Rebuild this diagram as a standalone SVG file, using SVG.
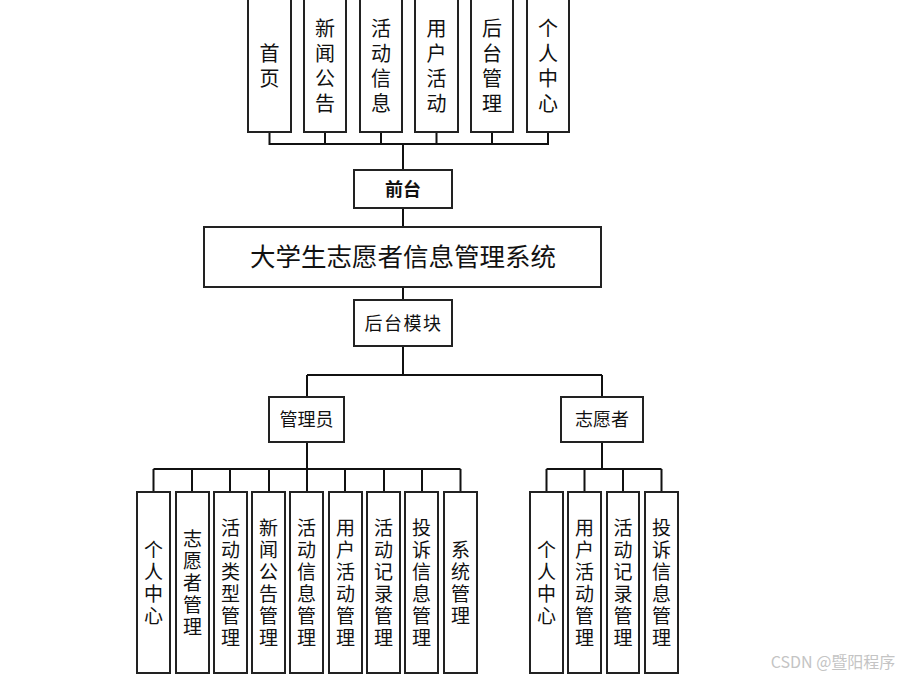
<svg xmlns="http://www.w3.org/2000/svg" width="905" height="677" viewBox="0 0 905 677">
<style>
.box{fill:#fff;stroke:#222;stroke-width:2}
.ln{fill:none;stroke:#111;stroke-width:2}
text{font-family:"Noto Sans CJK SC","Noto Sans",sans-serif;fill:#111;text-anchor:middle}
.t20{font-size:20px}
.t19{font-size:19px}
.t18{font-size:18px}
</style>
<rect width="905" height="677" fill="#fff"/>
<g id="connectors">
<path class="ln" d="M269.5 132V144H548V132M325 132V144M381 132V144M436.5 132V144M492 132V144M403 144V170"/>
<path class="ln" d="M403 208V227M403 287V300M403 346V375M307 375H602M307 375V397M602 375V397"/>
<path class="ln" d="M307 442V469M153.5 469H460.5M153.5 469V492M192 469V492M230 469V492M269 469V492M307 469V492M345 469V492M384 469V492M422 469V492M460.5 469V492"/>
<path class="ln" d="M602 442V469M546.5 469H661.5M546.5 469V492M584.5 469V492M623 469V492M661.5 469V492"/>
</g>
<g id="top1"><rect class="box" x="248" y="-1" width="43" height="133"/><text class="t20"><tspan x="269.5" y="61">首</tspan><tspan x="269.5" y="86">页</tspan></text></g>
<g id="top2"><rect class="box" x="304" y="-1" width="42" height="133"/><text class="t20"><tspan x="325" y="36">新</tspan><tspan x="325" y="61">闻</tspan><tspan x="325" y="86">公</tspan><tspan x="325" y="111">告</tspan></text></g>
<g id="top3"><rect class="box" x="360" y="-1" width="42" height="133"/><text class="t20"><tspan x="381" y="36">活</tspan><tspan x="381" y="61">动</tspan><tspan x="381" y="86">信</tspan><tspan x="381" y="111">息</tspan></text></g>
<g id="top4"><rect class="box" x="415" y="-1" width="43" height="133"/><text class="t20"><tspan x="436.5" y="36">用</tspan><tspan x="436.5" y="61">户</tspan><tspan x="436.5" y="86">活</tspan><tspan x="436.5" y="111">动</tspan></text></g>
<g id="top5"><rect class="box" x="471" y="-1" width="42" height="133"/><text class="t20"><tspan x="492" y="36">后</tspan><tspan x="492" y="61">台</tspan><tspan x="492" y="86">管</tspan><tspan x="492" y="111">理</tspan></text></g>
<g id="top6"><rect class="box" x="527" y="-1" width="42" height="133"/><text class="t20"><tspan x="548" y="36">个</tspan><tspan x="548" y="61">人</tspan><tspan x="548" y="86">中</tspan><tspan x="548" y="111">心</tspan></text></g>
<g id="qiantai"><rect class="box" x="354" y="170" width="98" height="38"/><text class="t18" x="403" y="195.5" font-weight="bold">前台</text></g>
<g id="main"><rect class="box" x="204" y="227" width="397" height="60"/><text x="403" y="266" font-size="25.5px">大学生志愿者信息管理系统</text></g>
<g id="houtai"><rect class="box" x="354" y="300" width="98" height="46"/><text class="t18" x="403.5" y="329.5" letter-spacing="1.5">后台模块</text></g>
<g id="admin"><rect class="box" x="269" y="397" width="75" height="45"/><text class="t18" x="306.5" y="426">管理员</text></g>
<g id="volunteer"><rect class="box" x="561" y="397" width="82" height="45"/><text class="t18" x="602" y="426">志愿者</text></g>
<g id="a1"><rect class="box" x="137" y="492" width="33" height="181"/><text class="t19"><tspan x="153.5" y="556.5">个</tspan><tspan x="153.5" y="578.5">人</tspan><tspan x="153.5" y="600.5">中</tspan><tspan x="153.5" y="622.5">心</tspan></text></g>
<g id="a2"><rect class="box" x="176" y="492" width="33" height="181"/><text class="t19"><tspan x="192.5" y="545.5">志</tspan><tspan x="192.5" y="567.5">愿</tspan><tspan x="192.5" y="589.5">者</tspan><tspan x="192.5" y="611.5">管</tspan><tspan x="192.5" y="633.5">理</tspan></text></g>
<g id="a3"><rect class="box" x="214" y="492" width="33" height="181"/><text class="t19"><tspan x="230.5" y="534.5">活</tspan><tspan x="230.5" y="556.5">动</tspan><tspan x="230.5" y="578.5">类</tspan><tspan x="230.5" y="600.5">型</tspan><tspan x="230.5" y="622.5">管</tspan><tspan x="230.5" y="644.5">理</tspan></text></g>
<g id="a4"><rect class="box" x="252" y="492" width="33" height="181"/><text class="t19"><tspan x="268.5" y="534.5">新</tspan><tspan x="268.5" y="556.5">闻</tspan><tspan x="268.5" y="578.5">公</tspan><tspan x="268.5" y="600.5">告</tspan><tspan x="268.5" y="622.5">管</tspan><tspan x="268.5" y="644.5">理</tspan></text></g>
<g id="a5"><rect class="box" x="290" y="492" width="33" height="181"/><text class="t19"><tspan x="306.5" y="534.5">活</tspan><tspan x="306.5" y="556.5">动</tspan><tspan x="306.5" y="578.5">信</tspan><tspan x="306.5" y="600.5">息</tspan><tspan x="306.5" y="622.5">管</tspan><tspan x="306.5" y="644.5">理</tspan></text></g>
<g id="a6"><rect class="box" x="329" y="492" width="33" height="181"/><text class="t19"><tspan x="345.5" y="534.5">用</tspan><tspan x="345.5" y="556.5">户</tspan><tspan x="345.5" y="578.5">活</tspan><tspan x="345.5" y="600.5">动</tspan><tspan x="345.5" y="622.5">管</tspan><tspan x="345.5" y="644.5">理</tspan></text></g>
<g id="a7"><rect class="box" x="367" y="492" width="33" height="181"/><text class="t19"><tspan x="383.5" y="534.5">活</tspan><tspan x="383.5" y="556.5">动</tspan><tspan x="383.5" y="578.5">记</tspan><tspan x="383.5" y="600.5">录</tspan><tspan x="383.5" y="622.5">管</tspan><tspan x="383.5" y="644.5">理</tspan></text></g>
<g id="a8"><rect class="box" x="405" y="492" width="33" height="181"/><text class="t19"><tspan x="421.5" y="534.5">投</tspan><tspan x="421.5" y="556.5">诉</tspan><tspan x="421.5" y="578.5">信</tspan><tspan x="421.5" y="600.5">息</tspan><tspan x="421.5" y="622.5">管</tspan><tspan x="421.5" y="644.5">理</tspan></text></g>
<g id="a9"><rect class="box" x="444" y="492" width="33" height="181"/><text class="t19"><tspan x="460.5" y="556.5">系</tspan><tspan x="460.5" y="578.5">统</tspan><tspan x="460.5" y="600.5">管</tspan><tspan x="460.5" y="622.5">理</tspan></text></g>
<g id="v1"><rect class="box" x="530" y="492" width="33" height="181"/><text class="t19"><tspan x="546.5" y="556.5">个</tspan><tspan x="546.5" y="578.5">人</tspan><tspan x="546.5" y="600.5">中</tspan><tspan x="546.5" y="622.5">心</tspan></text></g>
<g id="v2"><rect class="box" x="568" y="492" width="33" height="181"/><text class="t19"><tspan x="584.5" y="534.5">用</tspan><tspan x="584.5" y="556.5">户</tspan><tspan x="584.5" y="578.5">活</tspan><tspan x="584.5" y="600.5">动</tspan><tspan x="584.5" y="622.5">管</tspan><tspan x="584.5" y="644.5">理</tspan></text></g>
<g id="v3"><rect class="box" x="607" y="492" width="32" height="181"/><text class="t19"><tspan x="623" y="534.5">活</tspan><tspan x="623" y="556.5">动</tspan><tspan x="623" y="578.5">记</tspan><tspan x="623" y="600.5">录</tspan><tspan x="623" y="622.5">管</tspan><tspan x="623" y="644.5">理</tspan></text></g>
<g id="v4"><rect class="box" x="645" y="492" width="33" height="181"/><text class="t19"><tspan x="661.5" y="534.5">投</tspan><tspan x="661.5" y="556.5">诉</tspan><tspan x="661.5" y="578.5">信</tspan><tspan x="661.5" y="600.5">息</tspan><tspan x="661.5" y="622.5">管</tspan><tspan x="661.5" y="644.5">理</tspan></text></g>
<text x="833" y="668" font-size="16px" style="fill:#c4c4c4">CSDN @暨阳程序</text>
</svg>
